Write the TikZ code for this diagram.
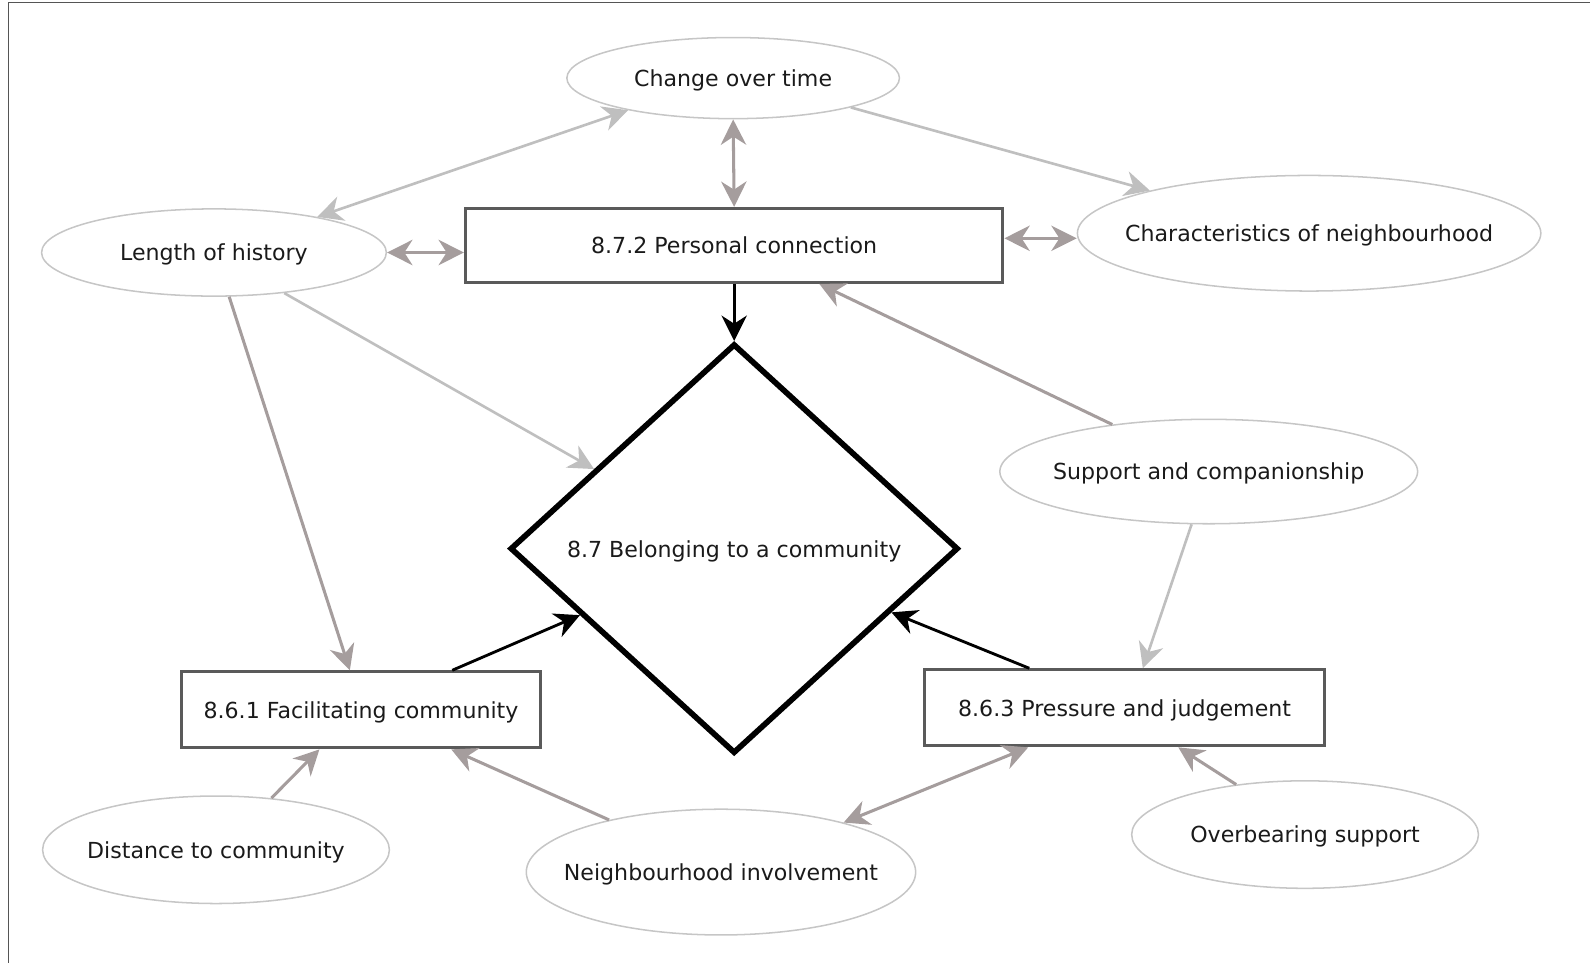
\documentclass[tikz,border=0pt]{standalone}
\usepackage{fontspec}
\setmainfont{DejaVu Sans}
\usetikzlibrary{arrows.meta, shapes.geometric}
\definecolor{linktaupe}{HTML}{A59D9D}
\definecolor{linklight}{HTML}{BFBFBF}
\definecolor{boxline}{HTML}{5A5A5A}
\definecolor{ovalline}{HTML}{C6C6C6}
\definecolor{framegray}{HTML}{555555}
\definecolor{textdark}{HTML}{1A1A1A}

\tikzset{
  oval/.style={ellipse, draw=ovalline, line width=0.75pt, inner ysep=0pt, inner xsep=-30pt},
  topic/.style={rectangle, draw=boxline, line width=1.5pt, inner sep=0pt, minimum height=37.5pt},
  core/.style={diamond, draw=black, line width=2.8pt, inner sep=0pt, minimum width=221pt, minimum height=202pt},
  link/.style={draw=linktaupe, line width=1.5pt},
  faint/.style={draw=linklight, line width=1.3pt},
  strong/.style={draw=black, line width=1.4pt},
  onehead/.style={-{Stealth[length=12.5pt,width=12.5pt,inset=4pt]}},
  twohead/.style={{Stealth[length=12.5pt,width=12.5pt,inset=4pt]}-{Stealth[length=12.5pt,width=12.5pt,inset=4pt]}}
}

\begin{document}
\begin{tikzpicture}[x=0.5pt, y=-0.5pt,
    every node/.style={font=\fontsize{10.9}{13}\selectfont, text=textdark, text depth=0pt}]
    \useasboundingbox (0,0) rectangle (1568,950);
    \draw[framegray, line width=0.6pt] (1568,2.5) -- (8.5,2.5) -- (8.5,950);

    % outer factors
    \node[oval, minimum width=164pt, minimum height=40pt] (chg) at (723,77) {Change over time};
    \node[oval, minimum width=170pt, minimum height=43pt] (hist) at (211,249) {Length of history};
    \node[oval, minimum width=228.5pt, minimum height=57pt] (char) at (1291,230) {Characteristics of neighbourhood};
    \node[oval, minimum width=206pt, minimum height=51.5pt] (sup) at (1192,465) {Support and companionship};
    \node[oval, minimum width=171pt, minimum height=53pt] (dist) at (213,838) {Distance to community};
    \node[oval, minimum width=192pt, minimum height=62pt] (neigh) at (711,860) {Neighbourhood involvement};
    \node[oval, minimum width=171pt, minimum height=53pt] (over) at (1287,823) {Overbearing support};

    % themes
    \node[topic, minimum width=265pt, minimum height=36.5pt] (pc) at (724,242) {8.7.2 Personal connection};
    \node[topic, minimum width=177pt] (fac) at (356,700) {8.6.1 Facilitating community};
    \node[topic, minimum width=197.5pt] (prs) at (1109,698) {8.6.3 Pressure and judgement};
    \node[core] (dia) at (724,541) {8.7 Belonging to a community};

    % links around the top
    \draw[faint, twohead] (hist.19) -- (chg.197);
    \draw[faint, onehead] (chg.346) -- (char.165);
    \draw[link, twohead] (chg.south) -- (pc.north);
    \draw[link, twohead] (hist.east) -- (hist.east -| pc.west);
    \draw[link, twohead] ([yshift=-2.5pt]char.west -| pc.east) -- ([yshift=-2.5pt]char.west);
    \draw[faint, onehead] (hist.330) -- (dia);
    \draw[link, onehead] (hist.289) -- ([xshift=-5.5pt]fac.north);
    \draw[link, onehead] (sup.154) -- ([xshift=42pt]pc.south);
    \draw[faint, onehead] (sup.252) -- ([xshift=9pt]prs.north);

    % into the core
    \draw[strong, onehead] (pc.south) -- (dia.north);
    \draw[strong, onehead] ([xshift=45pt]fac.north) -- (dia);
    \draw[strong, onehead] ([xshift=-47pt]prs.north) -- (dia);

    % links along the bottom
    \draw[link, onehead] (dist.43) -- ([xshift=-20.5pt]fac.south);
    \draw[link, onehead] (neigh.155) -- ([xshift=44.5pt]fac.south);
    \draw[link, twohead] (neigh.22) -- ([xshift=-47.5pt]prs.south);
    \draw[link, onehead] (over.144) -- ([xshift=26.5pt]prs.south);
\end{tikzpicture}
\end{document}
